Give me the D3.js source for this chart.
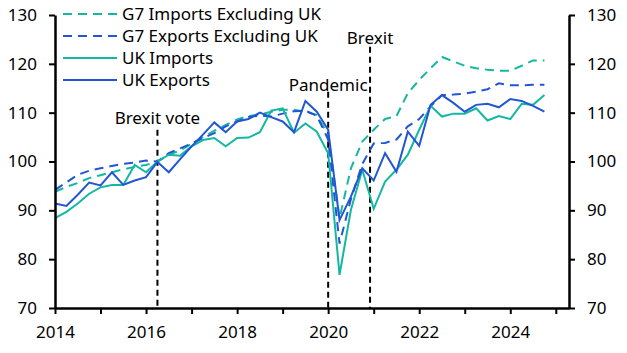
<!DOCTYPE html>
<html>
<head>
<meta charset="utf-8">
<script src="https://cdn.jsdelivr.net/npm/d3@7"></script>
<style>
  body { margin: 0; background: #fff; }
  svg { display: block; font-family: "Noto Sans", sans-serif; }
</style>
</head>
<body>
<div id="chart"></div>
<script>
// quarterly, 2014 Q1 .. 2024 Q4
const quarters = d3.range(44).map(i => 2014 + i / 4);

const g7Imports = [93.8, 94.8, 95.6, 96.6, 97.2, 97.8, 98.4, 98.9, 99.3, 100.0,
  101.3, 102.3, 103.6, 105.0, 106.3, 107.5, 108.6, 109.3, 109.6,
  110.2, 110.6, 110.6, 110.2, 109.5, 105.5,
  88.4, 98.6, 104.1, 106.5, 108.7, 109.3, 114.0, 116.7, 119.1, 121.4,
  120.5, 119.6, 119.1, 118.8, 118.6, 118.6, 119.6, 120.7, 120.7];
const g7Exports = [94.2, 95.7, 97.3, 98.1, 98.6, 99.1, 99.5, 99.8, 100.2, 100.0,
  101.7, 102.7, 103.7, 104.8, 105.8, 107.2, 108.2, 109.1, 109.4,
  109.2, 109.8, 110.3, 110.4, 109.4, 104.5,
  83.2, 92.3, 99.5, 103.7, 103.8, 104.5, 107.2, 108.7, 111.3, 113.6,
  113.7, 113.9, 114.3, 114.8, 116.0, 115.6, 115.6, 115.7, 115.7];
const ukImports = [88.4, 89.7, 91.4, 93.4, 94.7, 95.2, 95.2, 99.3, 97.8, 100.0,
  101.4, 101.2, 103.1, 104.4, 104.8, 103.1, 104.8, 104.9, 106.0,
  110.4, 110.9, 105.9, 107.8, 106.1, 101.7,
  76.8, 90.1, 98.3, 90.3, 95.9, 98.3, 101.4, 106.5, 111.4, 109.2,
  109.8, 109.8, 110.9, 108.4, 109.3, 108.7, 111.8, 111.6, 113.6];
const ukExports = [91.4, 90.9, 93.2, 95.7, 95.1, 97.8, 95.2, 96.1, 96.8, 99.9,
  97.8, 100.5, 103.1, 105.5, 108.0, 106.0, 108.2, 108.7, 110.0,
  109.1, 108.2, 106.0, 112.4, 110.2, 106.5,
  88.0, 92.8, 98.6, 96.1, 101.7, 97.9, 106.1, 103.2, 111.6, 113.6,
  112.0, 110.2, 111.6, 111.8, 111.1, 112.8, 112.4, 111.4, 110.2];

const seriesNames = ["G7 Imports Excluding UK", "G7 Exports Excluding UK", "UK Imports", "UK Exports"];
const eventLabels = ["Brexit vote", "Pandemic", "Brexit"];
const eventDates = [2016.25, 2020.0, 2020.92];
const yTicks = [70, 80, 90, 100, 110, 120, 130];
const xTicks = [2014, 2016, 2018, 2020, 2022, 2024];

const teal = "#14b8a2", blue = "#2256d3";
const series = [
  { name: seriesNames[0], values: g7Imports, color: teal, dash: "9,6" },
  { name: seriesNames[1], values: g7Exports, color: blue, dash: "9,6" },
  { name: seriesNames[2], values: ukImports, color: teal, dash: null },
  { name: seriesNames[3], values: ukExports, color: blue, dash: null }
];

const W = 627, H = 353;
const margin = { left: 55, right: 58, top: 15, bottom: 45 };
const fontSize = "17px";

const svg = d3.select("#chart").append("svg")
  .attr("width", W).attr("height", H);

const x = d3.scaleLinear().domain([2014, 2025.29]).range([margin.left, W - margin.right]);
const y = d3.scaleLinear().domain([70, 130]).range([H - margin.bottom, margin.top]);

// event markers: dashed line from its top down to the axis, label above
const eventTop = [106.5, 114.3, 123.5];
const labelGap = [6, 1, 3];
eventDates.forEach((d, i) => {
  svg.append("line")
    .attr("x1", x(d)).attr("x2", x(d))
    .attr("y1", y(eventTop[i])).attr("y2", y(70))
    .attr("stroke", "#000").attr("stroke-width", 2)
    .attr("stroke-dasharray", "6,4");
  svg.append("text")
    .attr("x", x(d)).attr("y", y(eventTop[i]) - labelGap[i])
    .attr("text-anchor", "middle")
    .style("font-size", fontSize)
    .text(eventLabels[i]);
});

// lines
const line = d3.line().x((d, i) => x(quarters[i])).y(d => y(d));
series.forEach(s => {
  svg.append("path")
    .datum(s.values)
    .attr("fill", "none")
    .attr("stroke", s.color)
    .attr("stroke-width", 2)
    .attr("stroke-dasharray", s.dash)
    .attr("d", line);
});

// axes
const xAxis = svg.append("g")
  .attr("transform", "translate(0," + y(70) + ")")
  .call(d3.axisBottom(x).tickValues(d3.range(2014, 2026)).tickSize(0).tickFormat(""));
xAxis.select(".domain").attr("stroke-width", 2.5);
xAxis.selectAll(".tick").append("line")
  .attr("y2", 6)
  .attr("stroke", "#000").attr("stroke-width", 2);
xAxis.selectAll(".tick").filter(d => xTicks.includes(d)).append("text")
  .attr("y", 30).attr("fill", "#000")
  .attr("text-anchor", "middle")
  .style("font-size", fontSize)
  .style("font-family", "'Noto Sans', sans-serif")
  .text(d => d);

const yLeft = svg.append("g")
  .attr("transform", "translate(" + margin.left + ",0)")
  .call(d3.axisLeft(y).tickValues(yTicks).tickSize(6).tickPadding(12).tickSizeOuter(0));
const yRight = svg.append("g")
  .attr("transform", "translate(" + (W - margin.right) + ",0)")
  .call(d3.axisRight(y).tickValues(yTicks).tickSize(6).tickPadding(12).tickSizeOuter(0));
[yLeft, yRight].forEach(g => {
  g.select(".domain").attr("stroke-width", 2.5);
  g.selectAll(".tick line").attr("stroke-width", 2);
  g.selectAll(".tick text").style("font-size", fontSize).attr("fill", "#000")
    .style("font-family", "'Noto Sans', sans-serif");
});

// legend
const legend = svg.append("g").attr("transform", "translate(63,14)");
series.forEach((s, i) => {
  const row = legend.append("g").attr("transform", "translate(0," + i * 22 + ")");
  row.append("line")
    .attr("x1", 0).attr("x2", 54)
    .attr("stroke", s.color).attr("stroke-width", 2)
    .attr("stroke-dasharray", s.dash);
  row.append("text")
    .attr("x", 59).attr("dy", "0.35em")
    .style("font-size", fontSize)
    .text(s.name);
});
</script>
</body>
</html>
